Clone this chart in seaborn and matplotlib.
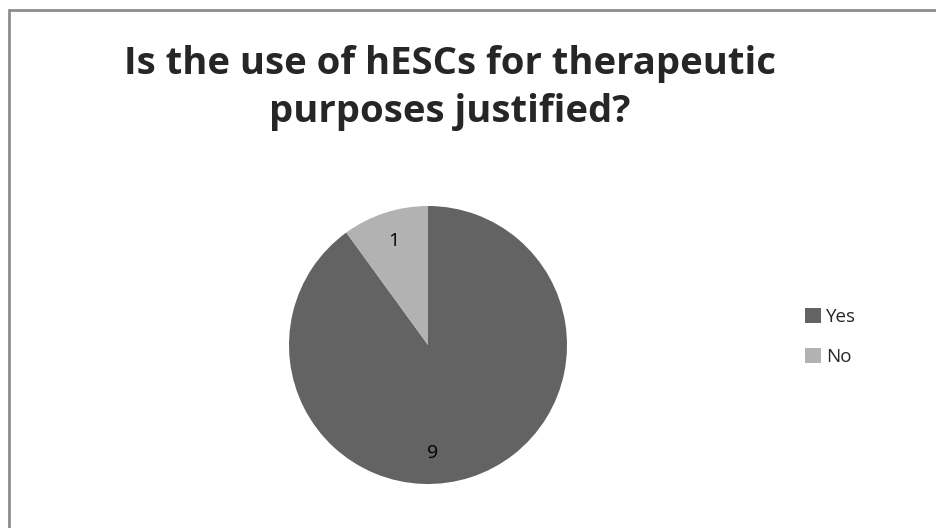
import matplotlib.pyplot as plt
import seaborn as sns
from matplotlib.patches import Rectangle

# data
answers = ["Yes", "No"]
counts = [9, 1]
colours = ["#636363", "#b2b2b2"]
title = "Is the use of hESCs for therapeutic\npurposes justified?"

sns.set_theme(style="white")
plt.rcParams['font.family'] = ['Open Sans', 'DejaVu Sans']

fig = plt.figure(figsize=(9.36, 5.28), dpi=100)

# outer chart border (only left/top visible in the original crop)
fig.patches.append(Rectangle((9 / 936, -0.1), 1.2, (518 / 528) + 0.1, transform=fig.transFigure,
                             fill=False, edgecolor="#8c8c8c", linewidth=2))

ax = fig.add_axes([289 / 936, (528 - 484) / 528, 278 / 936, 278 / 528])
wedges, texts = ax.pie(counts, colors=colours, startangle=90, counterclock=False,
                       labels=[str(c) for c in counts], labeldistance=0.79,
                       wedgeprops=dict(linewidth=0),
                       textprops=dict(fontsize=14, color="black"))
for t in texts:
    t.set_horizontalalignment("center")
    t.set_verticalalignment("center")
# excel's "best fit" puts the big slice label almost straight below the centre
texts[0].set_position((0.03, -0.78))
ax.set_xlim(-1, 1)
ax.set_ylim(-1, 1)
ax.set_aspect("equal")

fig.text(450 / 936, 1 - 88 / 528, title, ha="center", va="center", fontsize=27.5,
         fontweight="bold", linespacing=1.35)

leg = fig.legend(wedges, answers, loc="center left", bbox_to_anchor=(788 / 936, 1 - 337 / 528),
                 frameon=False, fontsize=13.5, handlelength=0.85, handleheight=0.85,
                 handletextpad=0.3, labelspacing=1.15)

fig.savefig("out.png", dpi=100)
